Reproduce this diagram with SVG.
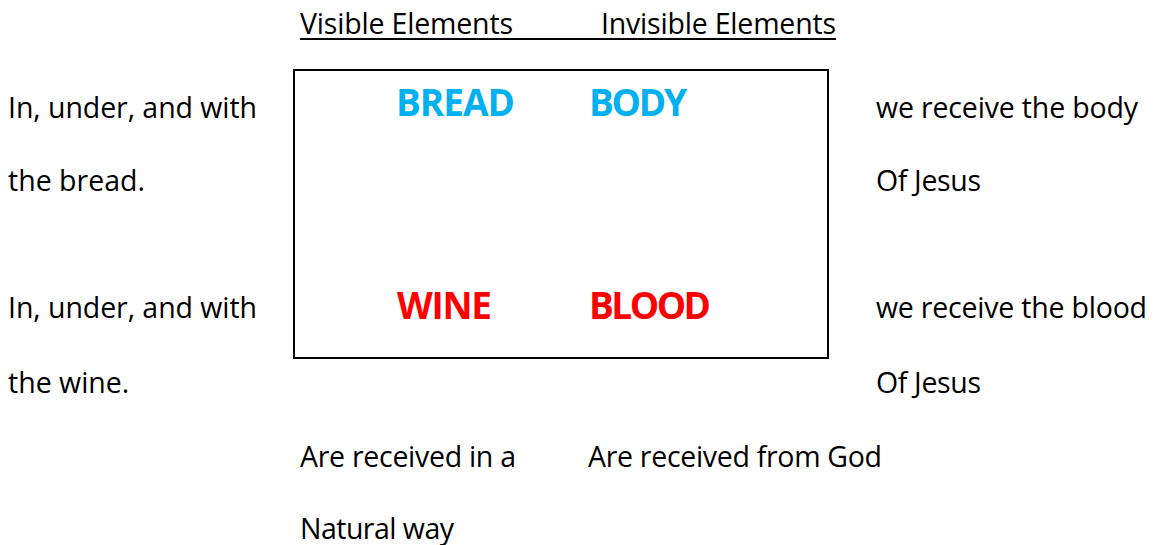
<svg xmlns="http://www.w3.org/2000/svg" width="1160" height="545" viewBox="0 0 1160 545">
<style>
.t{font-family:"Open Sans","Lato",sans-serif;font-size:28.5px;fill:#000}
.b{font-family:"Open Sans","Lato",sans-serif;font-size:37px;font-weight:bold}
.blue{fill:#00B0F0}
.red{fill:#FF0000}
</style>
<rect width="1160" height="545" fill="#fff"/>
<g id="headers">
<text class="t" x="300" y="34" textLength="213" lengthAdjust="spacing">Visible Elements</text>
<text class="t" x="601" y="34" textLength="235" lengthAdjust="spacing">Invisible Elements</text>
<line x1="300" y1="39" x2="836" y2="39" stroke="#000" stroke-width="2"/>
</g>
<g id="box"><rect x="294" y="70" width="534" height="288" fill="none" stroke="#000" stroke-width="2"/></g>
<g id="left">
<text class="t" x="8" y="118" textLength="249" lengthAdjust="spacing">In, under, and with</text>
<text class="t" x="8" y="191">the bread.</text>
<text class="t" x="8" y="318" textLength="249" lengthAdjust="spacing">In, under, and with</text>
<text class="t" x="8" y="393">the wine.</text>
</g>
<g id="right">
<text class="t" x="876" y="118" textLength="262" lengthAdjust="spacing">we receive the body</text>
<text class="t" x="876" y="191" textLength="105" lengthAdjust="spacing">Of Jesus</text>
<text class="t" x="876" y="318" textLength="271" lengthAdjust="spacing">we receive the blood</text>
<text class="t" x="876" y="393" textLength="105" lengthAdjust="spacing">Of Jesus</text>
</g>
<g id="elements">
<text class="b blue" x="396" y="116" textLength="119" lengthAdjust="spacing">BREAD</text>
<text class="b blue" x="589" y="116" textLength="98" lengthAdjust="spacing">BODY</text>
<text class="b red" x="397" y="319" textLength="95" lengthAdjust="spacing">WINE</text>
<text class="b red" x="589" y="319" textLength="122" lengthAdjust="spacing">BLOOD</text>
</g>
<g id="bottom">
<text class="t" x="300" y="467" textLength="216" lengthAdjust="spacing">Are received in a</text>
<text class="t" x="588" y="467" textLength="294" lengthAdjust="spacing">Are received from God</text>
<text class="t" x="300" y="539" textLength="154" lengthAdjust="spacing">Natural way</text>
</g>
</svg>
